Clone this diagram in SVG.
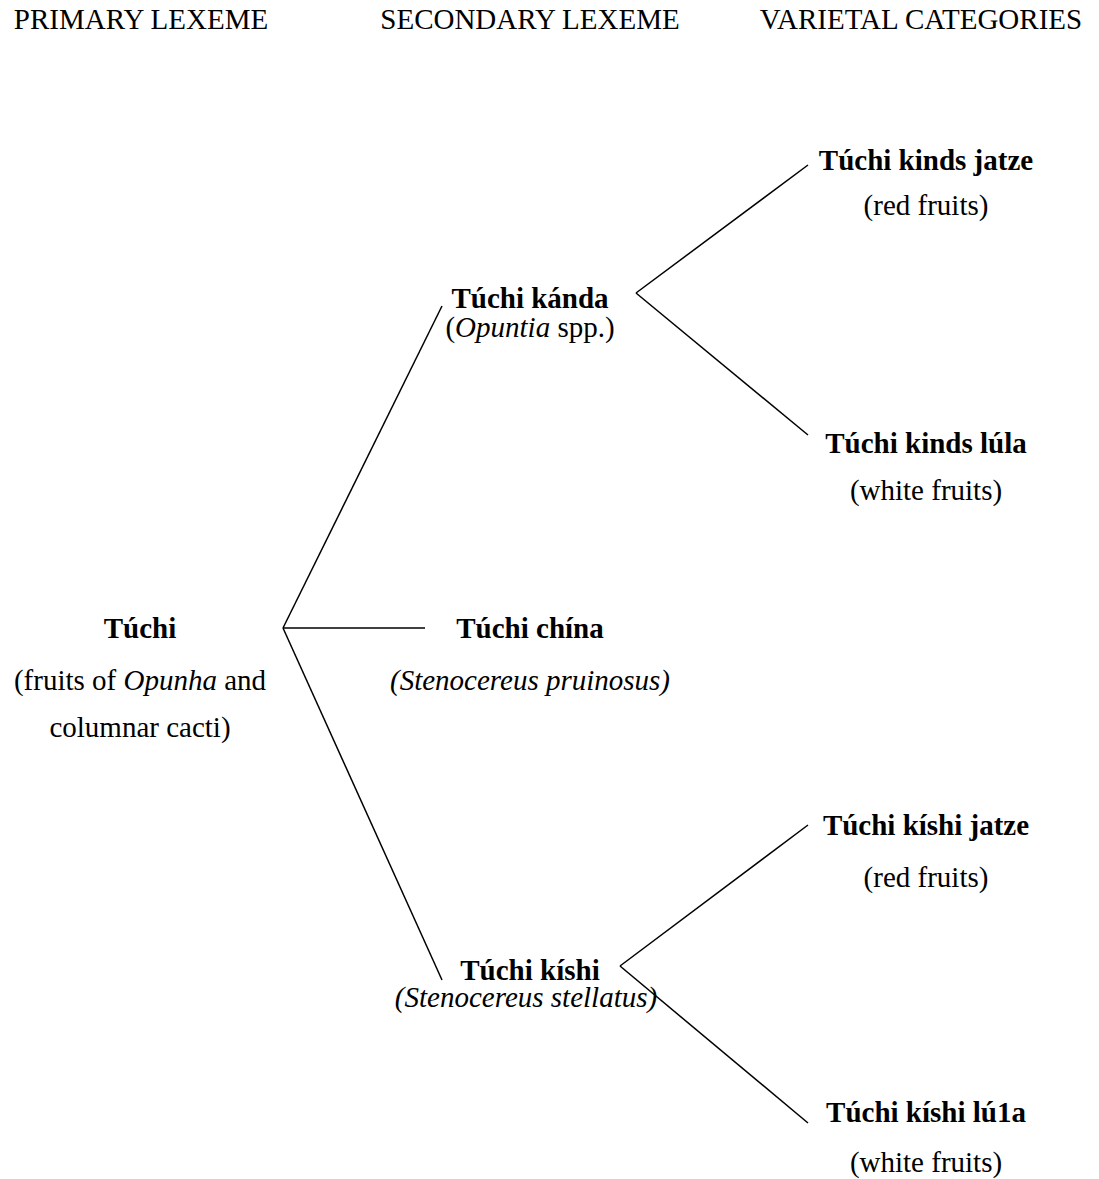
<svg xmlns="http://www.w3.org/2000/svg" width="1099" height="1179" viewBox="0 0 1099 1179">
<style>
text{font-family:"Liberation Serif","Times New Roman",serif;font-size:29px;fill:#000;text-anchor:middle}
.b{font-weight:bold}
.i{font-style:italic}
line{stroke:#000;stroke-width:1.5}
</style>
<rect width="1099" height="1179" fill="#fff"/>
<g id="headers">
<text x="141" y="29">PRIMARY LEXEME</text>
<text x="530" y="29">SECONDARY LEXEME</text>
<text x="921" y="29">VARIETAL CATEGORIES</text>
</g>
<g id="connectors">
<line x1="283" y1="628" x2="442" y2="306"/>
<line x1="283" y1="628" x2="425" y2="628"/>
<line x1="283" y1="628" x2="442" y2="980"/>
<line x1="636" y1="293" x2="808" y2="165"/>
<line x1="636" y1="293" x2="808" y2="435"/>
<line x1="620" y1="966" x2="808" y2="825"/>
<line x1="620" y1="966" x2="808" y2="1123"/>
</g>
<g id="root">
<text class="b" x="140" y="638">Túchi</text>
<text x="140" y="690">(fruits of <tspan class="i">Opunha</tspan> and</text>
<text x="140" y="737">columnar cacti)</text>
</g>
<g id="kanda">
<text class="b" x="530" y="308">Túchi kánda</text>
<text x="530" y="337">(<tspan class="i">Opuntia</tspan> spp.)</text>
</g>
<g id="china">
<text class="b" x="530" y="638">Túchi chína</text>
<text class="i" x="530" y="690">(Stenocereus pruinosus)</text>
</g>
<g id="kishi">
<text class="b" x="530" y="980">Túchi kíshi</text>
<text class="i" x="526" y="1007">(Stenocereus stellatus)</text>
</g>
<g id="kanda-jatze">
<text class="b" x="926" y="170">Túchi kinds jatze</text>
<text x="926" y="215">(red fruits)</text>
</g>
<g id="kanda-lula">
<text class="b" x="926" y="453">Túchi kinds lúla</text>
<text x="926" y="500">(white fruits)</text>
</g>
<g id="kishi-jatze">
<text class="b" x="926" y="835">Túchi kíshi jatze</text>
<text x="926" y="887">(red fruits)</text>
</g>
<g id="kishi-lula">
<text class="b" x="926" y="1122">Túchi kíshi lú1a</text>
<text x="926" y="1172">(white fruits)</text>
</g>
</svg>
